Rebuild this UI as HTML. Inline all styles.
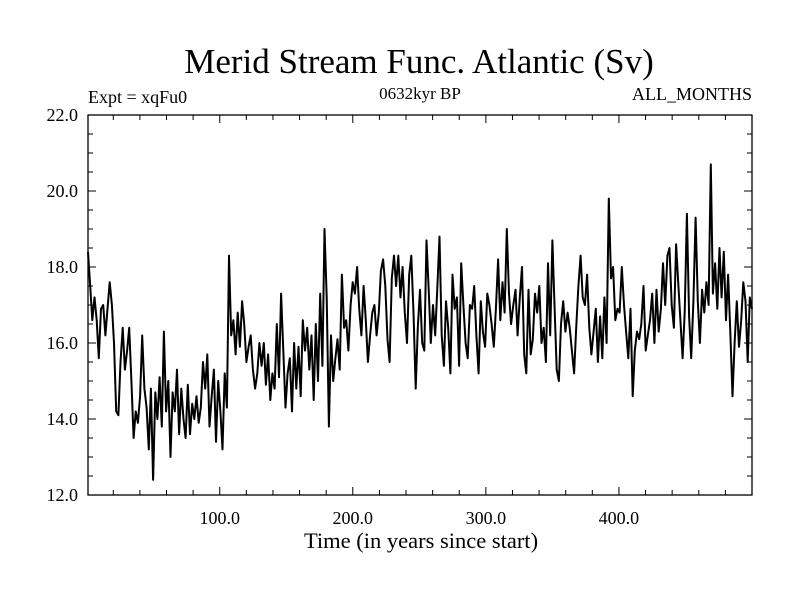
<!DOCTYPE html>
<html><head><meta charset="utf-8"><style>
body{margin:0;background:#fff;}
svg{display:block;font-family:"Liberation Serif",serif;}
</style></head><body>
<svg id="chart" width="800" height="600" viewBox="0 0 800 600">
<rect width="800" height="600" fill="#fff"/>
<text x="419" y="73" font-size="35" text-anchor="middle">Merid Stream Func. Atlantic (Sv)</text>
<text x="88" y="103" font-size="18">Expt = xqFu0</text>
<text x="420" y="99" font-size="17" text-anchor="middle">0632kyr BP</text>
<text x="752" y="100" font-size="18" text-anchor="end">ALL_MONTHS</text>
<g id="axes"></g>
<polyline id="series" fill="none" stroke="#000" stroke-width="2" stroke-linejoin="round"/>
<rect x="88" y="115" width="664" height="380" fill="none" stroke="#000" stroke-width="1.3"/>
<text x="421" y="548" font-size="22.5" text-anchor="middle">Time (in years since start)</text>
</svg>
<script>
const yTicks = [12.0, 14.0, 16.0, 18.0, 20.0, 22.0];
const xTicks = [100.0, 200.0, 300.0, 400.0];
const xStart = 1, xEnd = 500;
const values = [18.4,17.5,16.6,17.2,16.6,15.6,16.9,17.0,16.2,16.9,17.6,17.0,16.0,14.2,14.1,15.5,16.4,
15.3,15.8,16.4,15.0,13.5,14.2,13.9,14.6,16.2,14.8,14.3,13.2,14.8,12.4,14.7,14.0,15.1,
13.8,16.3,14.2,15.0,13.0,14.7,14.2,15.3,13.6,14.8,14.0,13.5,14.9,13.6,14.4,14.0,14.6,13.9,14.3,15.5,14.8,15.7,13.8,14.6,15.3,13.4,15.0,14.2,13.2,
15.2,14.3,18.3,16.2,16.6,15.7,16.8,15.9,17.1,16.5,15.5,15.9,16.2,15.3,14.8,15.2,16.0,15.4,16.0,14.9,15.7,
14.5,15.2,14.8,16.5,15.1,17.3,15.8,14.3,15.2,15.6,14.2,16.0,14.8,15.9,14.6,16.6,15.8,16.4,
15.3,16.2,14.5,16.5,15.0,17.3,15.4,19.0,17.2,13.8,16.2,15.0,
15.6,16.1,15.3,17.8,16.4,16.6,15.8,17.0,17.6,17.3,18.0,16.9,16.2,17.5,16.6,15.5,
16.2,16.8,17.0,16.2,16.8,17.9,18.2,17.5,16.1,15.5,17.7,18.3,17.5,18.3,17.2,18.0,16.8,
16.0,17.8,18.3,16.8,14.8,16.4,17.4,16.0,15.8,18.7,17.4,16.0,17.0,16.2,17.5,18.8,16.2,15.4,17.1,
16.4,15.2,17.8,16.9,17.2,15.4,18.1,17.0,16.0,15.6,17.0,16.9,17.5,16.2,15.2,17.1,16.3,15.9,17.3,
17.0,16.5,15.9,16.9,18.2,16.6,17.6,16.8,19.0,17.3,16.5,17.0,
17.4,16.2,17.2,18.0,15.7,15.2,17.4,15.7,16.1,17.3,16.8,17.5,16.0,16.4,15.5,18.1,16.2,18.7,17.0,
15.3,15.0,16.5,17.1,16.3,16.8,16.4,15.8,15.2,16.4,17.5,18.3,17.2,17.0,17.8,16.4,15.7,16.3,16.9,15.5,16.7,15.6,17.2,16.0,19.8,17.7,
18.0,16.6,16.9,16.8,18.0,17.0,16.3,15.6,16.9,14.6,15.8,16.3,16.1,16.5,17.5,15.8,16.2,16.6,17.3,16.0,
17.4,16.3,16.9,18.1,17.0,18.3,18.5,17.0,16.4,18.6,17.6,16.6,15.6,16.8,19.4,16.7,15.6,17.1,19.3,17.1,16.0,
17.4,16.8,17.6,17.0,20.7,17.3,18.1,16.9,18.5,17.2,18.4,16.6,17.8,16.3,14.6,16.0,17.1,15.9,16.6,17.6,17.1,15.5,17.2,16.9];
const X0=88,X1=752,Y0=495,Y1=115;
function sx(v){return X0+(v-xStart)/(xEnd-xStart)*(X1-X0);}
function sy(v){return Y0-(v-12)/(22-12)*(Y0-Y1);}
const NS="http://www.w3.org/2000/svg";
const g=document.getElementById('axes');
function line(x1,y1,x2,y2,name){const l=document.createElementNS(NS,'line');
l.setAttribute('x1',x1);l.setAttribute('y1',y1);l.setAttribute('x2',x2);l.setAttribute('y2',y2);
l.setAttribute('stroke','#000');l.setAttribute('stroke-width','1');


g.appendChild(l);}
function text(x,y,s,anchor,name){const t=document.createElementNS(NS,'text');
t.setAttribute('x',x);t.setAttribute('y',y);t.setAttribute('font-size','18');t.setAttribute('text-anchor',anchor);t.textContent=s;


g.appendChild(t);}
for(let v=12;v<=22.001;v+=0.5){const y=sy(v);const major=Math.abs(v-Math.round(v/2)*2)<1e-6;const L=major?8:5;
line(X0,y,X0+L,y,'y-tick');line(X1,y,X1-L,y,'y-tick-right');}
yTicks.forEach(v=>text(78,sy(v)+6,v.toFixed(1),'end','y-tick-label'));
for(let v=20;v<xEnd;v+=20){const x=sx(v);const major=v%100===0;const L=major?8:5;
line(x,Y0,x,Y0-L,'x-tick');line(x,Y1,x,Y1+L,'x-tick-top');}
xTicks.forEach(v=>text(sx(v),524,v.toFixed(1),'middle','x-tick-label'));
const n=values.length;
const pts=values.map((v,i)=>{const yr=xStart+i*(xEnd-xStart)/(n-1);return sx(yr).toFixed(1)+','+sy(v).toFixed(1);});
document.getElementById('series').setAttribute('points',pts.join(' '));
</script>
</body></html>
